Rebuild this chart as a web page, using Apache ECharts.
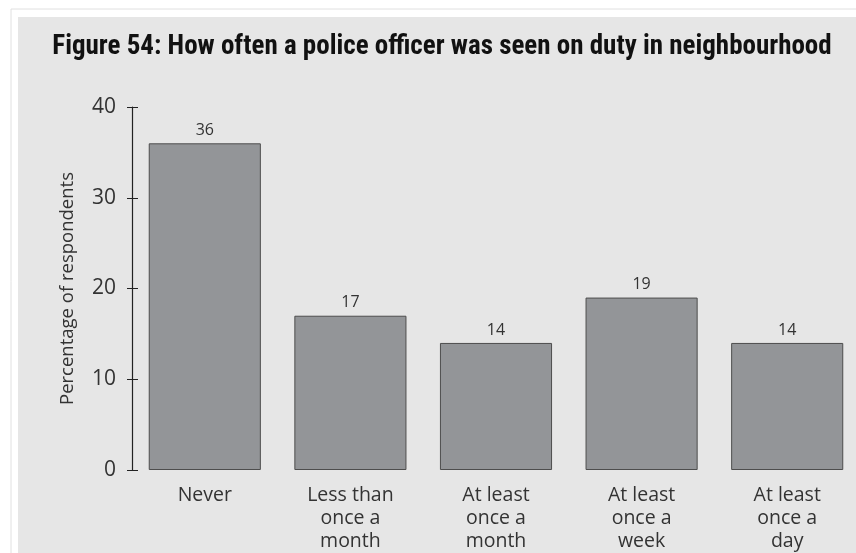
<!DOCTYPE html>
<html>
<head>
<meta charset="utf-8">
<script src="https://cdn.jsdelivr.net/npm/echarts@6/dist/echarts.min.js"></script>
<style>
  html, body { margin: 0; padding: 0; background: #fff; overflow: hidden; }
  #chart { width: 870px; height: 553px; }
</style>
</head>
<body>
<div id="chart"></div>
<script>
// data
const categories = ['Never', 'Less than\nonce a\nmonth', 'At least\nonce a\nmonth', 'At least\nonce a\nweek', 'At least\nonce a\nday'];
const values = [36, 17, 14, 19, 14];
const yTicks = [0, 10, 20, 30, 40];

const myChart = echarts.init(document.getElementById('chart'));
const font = '"Open Sans", "DejaVu Sans", sans-serif';

const option = {
    backgroundColor: '#fff',
    animation: false,
    graphic: [
        { type: 'rect', z: -10, shape: { x: 11, y: 9, width: 870, height: 560 }, style: { fill: '#fff', stroke: '#e0e0e0', lineWidth: 1 } },
        { type: 'rect', z: -9, shape: { x: 18, y: 17, width: 860, height: 550 }, style: { fill: '#e6e6e6' } }
    ],
    title: {
        text: 'Figure 54: How often a police officer was seen on duty in neighbourhood',
        left: 437, top: 29, textAlign: 'center',
        textStyle: { fontFamily: '"Liberation Sans Narrow", "Roboto Condensed", sans-serif', fontWeight: 'bold', fontSize: 27, color: '#111' }
    },
    grid: { left: 132, top: 107, width: 728, bottom: 82 },
    xAxis: {
        type: 'category',
        data: categories,
        axisLine: { show: false },
        axisTick: { show: false },
        axisLabel: { fontFamily: font, fontSize: 19.5, color: '#333', lineHeight: 23, margin: 14 }
    },
    yAxis: [{
        type: 'value',
        min: yTicks[0], max: yTicks[yTicks.length - 1], interval: 10,
        name: 'Percentage of respondents',
        nameLocation: 'middle', nameGap: 55,
        nameTextStyle: { fontFamily: font, fontSize: 18.5, color: '#333' },
        axisLine: { show: true, lineStyle: { color: '#222', width: 1.2 } },
        axisTick: { show: true, length: 5, lineStyle: { color: '#222' } },
        axisLabel: { fontFamily: font, fontSize: 21, color: '#333', margin: 16 },
        splitLine: { show: false }
    }, {
        type: 'value', position: 'left',
        min: yTicks[0], max: yTicks[yTicks.length - 1], interval: 10,
        axisLine: { show: false },
        axisTick: { show: true, inside: true, length: 6, lineStyle: { color: '#222' } },
        axisLabel: { show: false },
        splitLine: { show: false }
    }],
    series: [{
        type: 'bar',
        data: values,
        barCategoryGap: '23%',
        itemStyle: { color: '#939598', borderColor: '#4d4d4d', borderWidth: 1 },
        label: { show: true, position: 'top', distance: 5, fontFamily: font, fontSize: 16, color: '#333' }
    }]
};
myChart.setOption(option);
</script>
</body>
</html>
